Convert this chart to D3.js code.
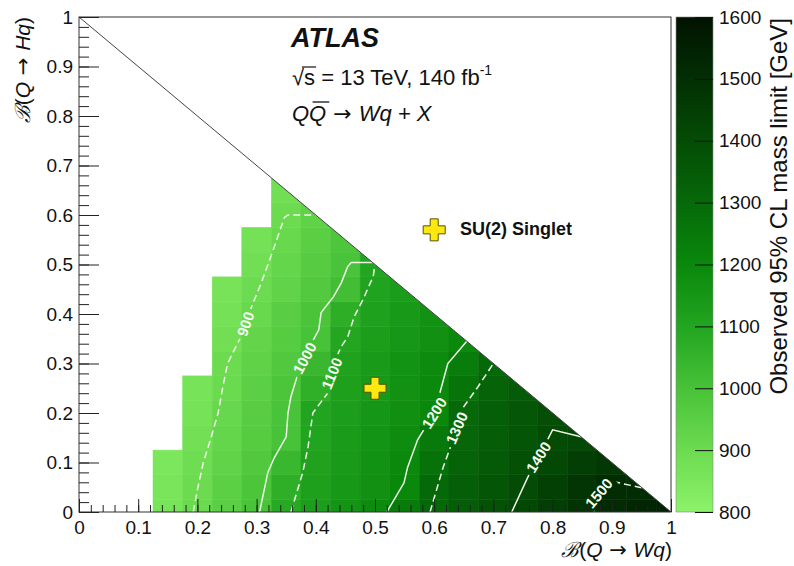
<!DOCTYPE html>
<html><head><meta charset="utf-8">
<script src="https://cdn.jsdelivr.net/npm/d3@7/dist/d3.min.js"></script>
<style>
body{margin:0;background:#fff}
svg{display:block}
text{font-family:"Liberation Sans",Arial,Helvetica,sans-serif;fill:#111}
</style></head>
<body><svg id="chart" width="794" height="566"></svg>
<script>
// ---------------- data ----------------
const binWidth = 0.05;
const columnX = [0.15,0.20,0.25,0.30,0.35,0.40,0.45,0.50,0.55,0.60,0.65,0.70,0.75,0.80,0.85,0.90,0.95,1.00];
// observed mass limit [GeV] per column, rows at B(Hq) = 0, 0.05, 0.10, ...
const columnValues = [
  [862,856,849],
  [906,900,892,882,870,865],
  [951,944,934,921,913,906,899,885,872,864],
  [996,988,976,961,955,947,937,923,912,898,885,875],
  [1085,1065,1039,1000,997,988,976,962,952,934,922,911,900,885],
  [1126,1117,1109,1105,1102,1064,1038,1000,992,971,959,948,935],
  [1157,1144,1138,1133,1127,1116,1110,1096,1069,1016,996,985],
  [1188,1172,1167,1160,1151,1142,1136,1123,1115,1108,1100],
  [1241,1200,1196,1187,1176,1168,1162,1147,1140,1130],
  [1305,1300,1270,1246,1200,1195,1188,1171,1165],
  [1341,1334,1320,1310,1305,1265,1235,1195],
  [1378,1368,1352,1340,1335,1320,1301],
  [1414,1402,1384,1370,1365,1350],
  [1450,1440,1415,1400,1390],
  [1486,1478,1445,1415],
  [1515,1507,1470],
  [1535,1512],
  [1555]
];
const xTickValues = [0,0.1,0.2,0.3,0.4,0.5,0.6,0.7,0.8,0.9,1];
const xTickLabels = ["0","0.1","0.2","0.3","0.4","0.5","0.6","0.7","0.8","0.9","1"];
const yTickValues = [0,0.1,0.2,0.3,0.4,0.5,0.6,0.7,0.8,0.9,1];
const yTickLabels = ["0","0.1","0.2","0.3","0.4","0.5","0.6","0.7","0.8","0.9","1"];
const colorTickValues = [800,900,1000,1100,1200,1300,1400,1500,1600];
const colorTickLabels = ["800","900","1000","1100","1200","1300","1400","1500","1600"];
const paletteLevels = [800,900,1000,1100,1200,1300,1400,1500,1600];
const paletteColors = ["#8cf26a","#6cdb50","#48c238","#22a520","#0a880c","#066909","#044c05","#022f03","#011301"];

// contour lines (B(Wq), B(Hq))
const contourLevels = [900,1000,1100,1200,1300,1400,1500];
const contourDashed = [true,false,true,false,true,false,true];
const contour900 = [[0.193,0],[0.20,0.045],[0.21,0.10],[0.223,0.15],[0.235,0.20],[0.243,0.253],[0.251,0.30],[0.265,0.334],[0.274,0.355],[0.29,0.41],[0.307,0.46],[0.324,0.516],[0.336,0.557],[0.347,0.595],[0.353,0.60],[0.40,0.60]];
const contour1000 = [[0.305,0],[0.319,0.08],[0.33,0.11],[0.35,0.152],[0.353,0.20],[0.358,0.233],[0.37,0.28],[0.387,0.328],[0.405,0.368],[0.409,0.403],[0.43,0.435],[0.443,0.463],[0.454,0.496],[0.46,0.504],[0.496,0.504]];
const contour1100 = [[0.358,0],[0.378,0.08],[0.387,0.132],[0.395,0.20],[0.403,0.213],[0.42,0.24],[0.43,0.30],[0.443,0.334],[0.454,0.354],[0.465,0.395],[0.48,0.43],[0.497,0.476],[0.50,0.50]];
const contour1200 = [[0.52,0],[0.549,0.059],[0.555,0.09],[0.572,0.146],[0.60,0.20],[0.611,0.247],[0.623,0.30],[0.655,0.345]];
const contour1300 = [[0.593,0],[0.615,0.09],[0.632,0.146],[0.65,0.213],[0.674,0.253],[0.70,0.30]];
const contour1400 = [[0.731,0],[0.758,0.07],[0.78,0.119],[0.80,0.166],[0.848,0.152]];
const contour1500 = [[0.869,0],[0.878,0.038],[0.885,0.065],[0.904,0.061],[0.951,0.049]];
const contourLines = [contour900,contour1000,contour1100,contour1200,contour1300,contour1400,contour1500];
const contourLabelPos = [[0.281,0.38],[0.381,0.311],[0.427,0.28],[0.60,0.20],[0.638,0.17],[0.776,0.111],[0.878,0.038]];
const contourLabelAngle = [-71,-62,-68,-58,-66,-58,-50];

const benchmarkPoint = [0.5,0.25];
const legendMarkerPos = [0.60,0.57];

// ---------------- layout ----------------
const svg = d3.select("#chart");
const x = d3.scaleLinear().domain([0,1]).range([79,671]);
const y = d3.scaleLinear().domain([0,1]).range([512,17]);
const color = d3.scaleLinear().domain(paletteLevels).range(paletteColors).interpolate(d3.interpolateRgb).clamp(true);
const defs = svg.append("defs");
const ARROW_FONT = '"DejaVu Sans",sans-serif';

defs.append("clipPath").attr("id","tri").append("path")
  .attr("d", d3.line()([[x(0),y(0)],[x(1),y(0)],[x(0),y(1)]]) + "Z");

// cells
const cells = [];
columnX.forEach((cx,i)=>columnValues[i].forEach((v,j)=>cells.push({x:cx,y:j*binWidth,v})));
svg.append("g").attr("clip-path","url(#tri)")
  .selectAll("rect").data(cells).join("rect")
  .attr("x",d=>x(d.x-binWidth/2))
  .attr("y",d=>y(d.y+binWidth/2))
  .attr("width",d=>x(d.x+binWidth/2)-x(d.x-binWidth/2))
  .attr("height",d=>y(d.y-binWidth/2)-y(d.y+binWidth/2))
  .attr("fill",d=>color(d.v))
  .attr("stroke",d=>color(d.v)).attr("stroke-width",0.5);

// label mask for contour lines
const mask = defs.append("mask").attr("id","lblmask").attr("maskUnits","userSpaceOnUse")
  .attr("x",0).attr("y",0).attr("width",794).attr("height",566);
mask.append("rect").attr("width",794).attr("height",566).attr("fill","white");
contourLevels.forEach((lv,i)=>{
  const w = String(lv).length*8.6+6;
  mask.append("rect").attr("x",-w/2).attr("y",-8).attr("width",w).attr("height",16).attr("fill","black")
    .attr("transform",`translate(${x(contourLabelPos[i][0])},${y(contourLabelPos[i][1])}) rotate(${contourLabelAngle[i]})`);
});

const line = d3.line().x(d=>x(d[0])).y(d=>y(d[1]));
const cg = svg.append("g").attr("mask","url(#lblmask)").attr("clip-path","url(#tri)");
contourLines.forEach((pts,i)=>{
  cg.append("path").attr("d",line(pts)).attr("fill","none")
    .attr("stroke","#eef7e8").attr("stroke-width",1.5)
    .attr("stroke-dasharray",contourDashed[i]?"7,4":null);
});
contourLevels.forEach((lv,i)=>{
  svg.append("text").text(lv)
    .attr("transform",`translate(${x(contourLabelPos[i][0])},${y(contourLabelPos[i][1])}) rotate(${contourLabelAngle[i]})`)
    .attr("text-anchor","middle").attr("dominant-baseline","central")
    .style("fill","#f4fbef").style("font-size","15px").style("font-weight","bold");
});

// diagonal
svg.append("path").attr("d",line([[0,1],[1,0]])).attr("stroke","#444").attr("stroke-width",1).attr("fill","none");

// frame
svg.append("rect").attr("x",x(0)).attr("y",y(1)).attr("width",x(1)-x(0)).attr("height",y(0)-y(1))
  .attr("fill","none").attr("stroke","#333").attr("stroke-width",1);

// axes
const minorX = d3.range(0,1.0001,0.02);
const gxMinor = svg.append("g").attr("transform",`translate(0,${y(0)})`)
  .call(d3.axisBottom(x).tickValues(minorX).tickSizeInner(-7).tickSizeOuter(0).tickFormat(""));
const gx = svg.append("g").attr("transform",`translate(0,${y(0)})`)
  .call(d3.axisBottom(x).tickValues(xTickValues).tickSizeInner(-13).tickSizeOuter(0).tickPadding(9)
    .tickFormat((d,i)=>xTickLabels[i]));
const gyMinor = svg.append("g").attr("transform",`translate(${x(0)},0)`)
  .call(d3.axisLeft(y).tickValues(minorX).tickSizeInner(-10).tickSizeOuter(0).tickFormat(""));
const gy = svg.append("g").attr("transform",`translate(${x(0)},0)`)
  .call(d3.axisLeft(y).tickValues(yTickValues).tickSizeInner(-20).tickSizeOuter(0).tickPadding(6)
    .tickFormat((d,i)=>yTickLabels[i]));
[gxMinor,gx,gyMinor,gy].forEach(g=>{
  g.select(".domain").remove();
  g.selectAll("line").attr("stroke","#222");
  g.selectAll("text").style("font-size","19px").style("fill","#111").style("font-family",'"Liberation Sans",Arial,sans-serif');
});

// colorbar
const cb = d3.scaleLinear().domain([800,1600]).range([512,17]);
const grad = defs.append("linearGradient").attr("id","cbgrad").attr("x1",0).attr("y1",1).attr("x2",0).attr("y2",0);
paletteLevels.forEach((lv,i)=>grad.append("stop").attr("offset",(lv-800)/800).attr("stop-color",paletteColors[i]));
svg.append("rect").attr("x",676).attr("y",cb(1600)).attr("width",37).attr("height",cb(800)-cb(1600))
  .attr("fill","url(#cbgrad)").attr("stroke","#888").attr("stroke-width",0.6);
const gcb = svg.append("g").attr("transform","translate(713,0)")
  .call(d3.axisRight(cb).tickValues(colorTickValues).tickSizeInner(-18).tickSizeOuter(0).tickPadding(6)
    .tickFormat((d,i)=>colorTickLabels[i]));
gcb.select(".domain").remove();
gcb.selectAll("line").attr("stroke","#111");
gcb.selectAll("text").style("font-size","19px").style("fill","#111").style("font-family",'"Liberation Sans",Arial,sans-serif');

svg.append("text").text("Observed 95% CL mass limit [GeV]")
  .attr("transform","translate(787,18) rotate(-90)").attr("text-anchor","end")
  .style("font-size","24px");

// axis titles
function brTitle(sel, a){
  sel.append("tspan").text("\u212C").style("font-style","italic");
  sel.append("tspan").text("(");
  sel.append("tspan").text("Q").style("font-style","italic");
  sel.append("tspan").text(" \u2192 ").style("font-family",ARROW_FONT);
  sel.append("tspan").text(a+"q").style("font-style","italic");
  sel.append("tspan").text(")");
}
svg.append("text").attr("x",672).attr("y",557).attr("text-anchor","end").style("font-size","21px")
  .call(s=>brTitle(s,"W"));
svg.append("text").attr("transform","translate(30,17) rotate(-90)").attr("text-anchor","end").style("font-size","21px")
  .call(s=>brTitle(s,"H"));

// ATLAS labels
svg.append("text").attr("x",291).attr("y",47).text("ATLAS")
  .style("font-size","27px").style("font-weight","bold").style("font-style","italic");
const t2 = svg.append("text").attr("x",292).attr("y",85).style("font-size","22px");
t2.append("tspan").text("\u221As = 13 TeV, 140 fb");
t2.append("tspan").attr("dy",-10).style("font-size","14px").text("-1");
{
  const n = t2.node();
  const s1 = n.getEndPositionOfChar(1);
  const r0 = n.getStartPositionOfChar(0);
  svg.append("line").attr("x1",r0.x+10).attr("x2",s1.x+1).attr("y1",85-18).attr("y2",85-18)
    .attr("stroke","#111").attr("stroke-width",1.2);
}
const t3 = svg.append("text").attr("x",292).attr("y",121).style("font-size","22px").style("font-style","italic");
t3.append("tspan").text("QQ");
t3.append("tspan").text(" \u2192 ").style("font-style","normal").style("font-family",ARROW_FONT);
t3.append("tspan").text("Wq + X");
{
  const n = t3.node();
  const a = n.getStartPositionOfChar(1), b = n.getEndPositionOfChar(1);
  svg.append("line").attr("x1",a.x+3.5).attr("x2",b.x+3).attr("y1",121-19).attr("y2",121-19)
    .attr("stroke","#111").attr("stroke-width",1.3);
}

// markers
const s=11,t=4;
const plus = `M${-t},${-s}L${t},${-s}L${t},${-t}L${s},${-t}L${s},${t}L${t},${t}L${t},${s}L${-t},${s}L${-t},${t}L${-s},${t}L${-s},${-t}L${-t},${-t}Z`;
svg.append("path").attr("d",plus).attr("transform",`translate(${x(benchmarkPoint[0])},${y(benchmarkPoint[1])})`)
  .attr("fill","#fde910").attr("stroke","#5a5000").attr("stroke-width",1);
svg.append("path").attr("d",plus).attr("transform",`translate(${x(legendMarkerPos[0])},${y(legendMarkerPos[1])})`)
  .attr("fill","#fde910").attr("stroke","#5a5000").attr("stroke-width",1);
svg.append("text").attr("x",460).attr("y",235).text("SU(2) Singlet")
  .style("font-size","18px").style("font-weight","bold");
</script></body></html>
